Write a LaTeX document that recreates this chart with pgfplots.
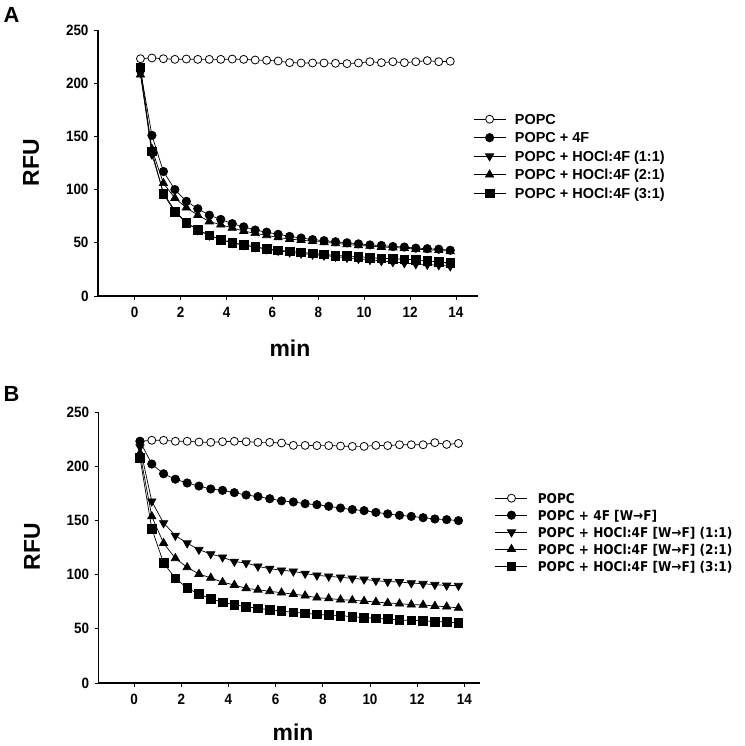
\documentclass[border=0pt]{standalone}
\usepackage{fontspec}
\setmainfont{Liberation Sans}
\newfontfamily\legb[FakeStretch=0.9]{DejaVu Sans Bold}
\newfontfamily\tickf[FakeStretch=0.9]{Liberation Sans Bold}
\usepackage{pgfplots}
\pgfplotsset{compat=1.18}

\pgfplotstableread{
t popc f4 a11 a21 a31
0.25 223.0 212 210 208 215
0.75 223.7 151 133 138 136
1.25 223.0 117 97 106 96
1.75 222.4 100 80 92 79
2.25 222.7 89 69 83 69
2.75 222.4 82 62 76 62
3.25 222.4 76 57 70 57
3.75 222.4 72 53 67 53
4.25 222.7 68 50 64 50
4.75 222.4 65 48 61 48
5.25 221.8 62 46 59 46
5.75 221.5 60 44 57 44.5
6.25 220.9 58 42.5 55 43
6.75 219.3 56 41 53.5 42
7.25 219.0 54.5 40 52.5 41
7.75 219.0 53 39 51.5 40
8.25 219.0 52 38 50.5 39
8.75 218.7 51 37 49.5 38
9.25 218.4 50 36 48.5 37.5
9.75 219.0 49 35 47.5 37
10.25 220.2 48 34 47 36
10.75 219.3 47.5 33 46 35.5
11.25 220.2 46.5 32 45.5 35
11.75 219.3 46 31 45 34.5
12.25 220.2 45 30 44 34
12.75 221.2 44.5 29.5 43.5 33
13.25 220.2 44 29 43 32
13.75 220.6 43 28 42 31
}\dataA

\pgfplotstableread{
t popc f4 a11 a21 a31
0.25 223.0 223.0 217.7 212.0 207.6
0.75 223.9 202.0 167.6 153.7 142.4
1.25 223.9 193.0 147.6 129.0 110.7
1.75 223.0 188.0 136.0 115.0 96.6
2.25 223.0 184.5 129.0 106.7 87.6
2.75 222.3 181.7 123.0 100.5 82.0
3.25 222.0 179.0 119.0 97.0 77.8
3.75 222.6 177.7 116.0 93.0 74.4
4.25 223.0 175.6 112.0 90.4 72.3
4.75 222.6 173.4 110.7 87.3 70.4
5.25 222.0 172.0 107.6 86.0 68.9
5.75 222.0 170.0 105.5 84.6 67.6
6.25 221.4 168.0 104.0 83.3 66.4
6.75 219.2 167.0 103.0 82.0 65.2
7.25 219.2 165.4 101.0 80.6 64.3
7.75 219.0 164.5 99.3 78.7 63.3
8.25 219.0 163.0 98.4 78.0 62.7
8.75 218.6 161.4 97.5 76.9 62.1
9.25 218.3 160.0 96.6 76.3 61.2
9.75 218.3 159.0 95.6 75.6 60.3
10.25 219.2 157.4 94.4 74.7 59.7
10.75 219.0 156.0 93.5 73.8 59.0
11.25 219.8 154.7 93.2 73.2 58.1
11.75 219.8 153.7 92.2 72.3 57.8
12.25 219.8 152.5 91.6 72.0 57.5
12.75 221.7 151.3 90.7 71.0 56.6
13.25 220.1 150.7 90.0 70.4 56.3
13.75 221.0 149.8 89.8 69.2 55.3
}\dataB

\pgfplotsset{
  panel/.style={
    scale only axis,
    axis x line*=bottom, axis y line*=left,
    axis line style={line width=1.1bp, black},
    ymin=0, ymax=250, ytick={0,50,...,250},
    xtick={0,2,...,14},
    tick align=outside, major tick length=4bp,
    tick style={line width=0.9bp, black},
    /pgf/number format/assume math mode=true,
    tick label style={font=\tickf\fontsize{15}{16}\selectfont},
    xticklabel style={yshift=-4bp},
    yticklabel style={xshift=-2bp},
    every axis plot/.append style={line width=0.7bp, black, solid},
    legend cell align=left,
    legend image code/.code={\draw[mark repeat=2,mark phase=2,##1] plot coordinates {(0bp,0bp) (16bp,0bp) (32bp,0bp)};},
    xlabel style={font=\fontsize{23}{24}\selectfont\bfseries},
    ylabel style={font=\fontsize{23}{24}\selectfont\bfseries, rotate=0},
  },
  popcst/.style={mark=*, mark size=4bp, mark options={fill=white, line width=0.8bp}},
  f4st/.style={mark=*, mark size=4.2bp, mark options={fill=black}},
  a11st/.style={mark=triangle*, mark size=4.8bp, mark options={fill=black, rotate=180}},
  a21st/.style={mark=triangle*, mark size=4.8bp, mark options={fill=black}},
  a31st/.style={mark=square*, mark size=4.3bp, mark options={fill=black}},
}

\begin{document}
\begin{tikzpicture}
\path[use as bounding box] (0bp,0bp) rectangle (745bp,746bp);

% Panel A
\begin{axis}[panel,
  at={(98bp,450bp)}, anchor=south west,
  width=380bp, height=266bp,
  xmin=-1.6, xmax=14.96,
  xlabel={min}, ylabel={RFU},
  xlabel style={at={(axis description cs:0.505,-0.195)}, anchor=center},
  ylabel style={at={(axis description cs:-0.176,0.5)}, anchor=center, rotate=0},
  legend style={draw=none, fill=none, inner sep=0pt, inner xsep=0pt, inner ysep=0pt,
    at={(axis description cs:0.987,0.685)}, anchor=north west,
    nodes={inner sep=0pt, text height=10.4bp, text depth=0bp, font=\fontsize{14.5}{16}\selectfont\bfseries},
    row sep=8.1bp,
    /tikz/every odd column/.append style={column sep=9bp}},
]
\addplot[popcst] table[x=t,y=popc] {\dataA};
\addlegendentry{POPC}
\addplot[f4st] table[x=t,y=f4] {\dataA};
\addlegendentry{POPC + 4F}
\addplot[a11st] table[x=t,y=a11] {\dataA};
\addlegendentry{POPC + HOCl:4F (1:1)}
\addplot[a21st] table[x=t,y=a21] {\dataA};
\addlegendentry{POPC + HOCl:4F (2:1)}
\addplot[a31st] table[x=t,y=a31] {\dataA};
\addlegendentry{POPC + HOCl:4F (3:1)}
\end{axis}

% Panel B
\begin{axis}[panel,
  at={(98.7bp,63bp)}, anchor=south west,
  width=381bp, height=271bp,
  xmin=-1.5, xmax=14.65,
  xlabel={min}, ylabel={RFU},
  xlabel style={at={(axis description cs:0.51,-0.183)}, anchor=center},
  ylabel style={at={(axis description cs:-0.175,0.502)}, anchor=center, rotate=0},
  legend style={draw=none, fill=none, inner sep=0pt, inner xsep=0pt, inner ysep=0pt,
    at={(axis description cs:1.040,0.7015)}, anchor=north west,
    nodes={inner sep=0pt, text height=10.2bp, text depth=0bp, font=\legb\fontsize{13.5}{16}\selectfont},
    row sep=6.8bp,
    /tikz/every odd column/.append style={column sep=10bp}},
]
\addplot[popcst] table[x=t,y=popc] {\dataB};
\addlegendentry{POPC}
\addplot[f4st] table[x=t,y=f4] {\dataB};
\addlegendentry{POPC + 4F [W→F]}
\addplot[a11st] table[x=t,y=a11] {\dataB};
\addlegendentry{POPC + HOCl:4F [W→F] (1:1)}
\addplot[a21st] table[x=t,y=a21] {\dataB};
\addlegendentry{POPC + HOCl:4F [W→F] (2:1)}
\addplot[a31st] table[x=t,y=a31] {\dataB};
\addlegendentry{POPC + HOCl:4F [W→F] (3:1)}
\end{axis}

\node[font=\fontsize{22}{24}\selectfont\bfseries, anchor=center] at (11.5bp,731.5bp) {A};
\node[font=\fontsize{22}{24}\selectfont\bfseries, anchor=center] at (11.5bp,352.5bp) {B};
\end{tikzpicture}
\end{document}
